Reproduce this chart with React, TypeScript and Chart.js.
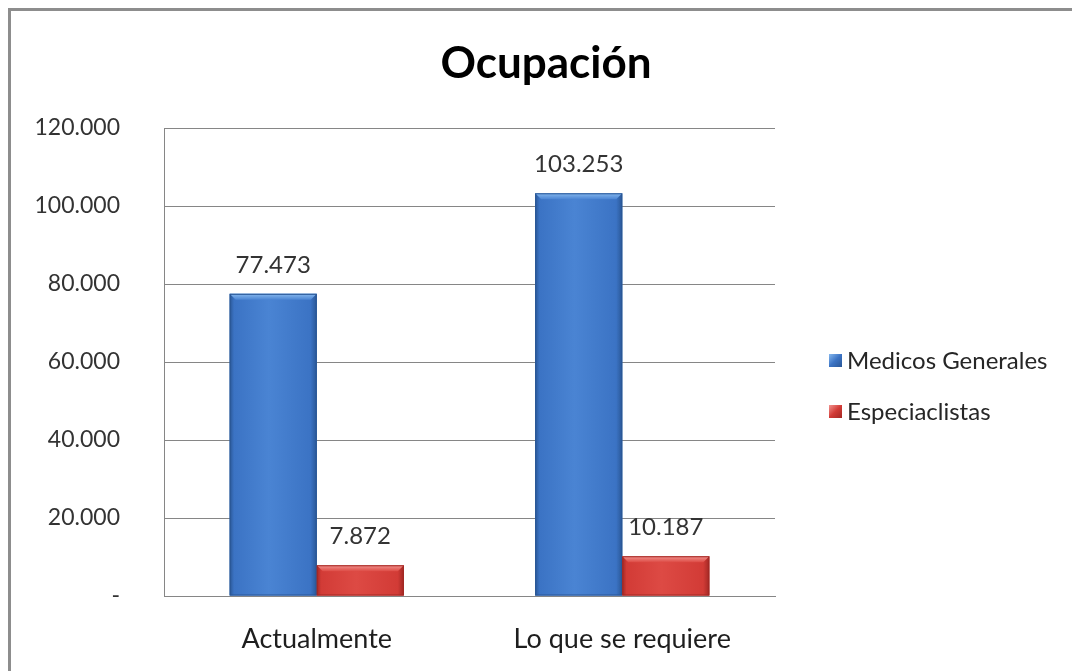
import React, { useEffect, useRef } from "react";
import { Chart, registerables } from "chart.js";

Chart.register(...registerables);

const TITLE = "Ocupación";
const categories = ["Actualmente", "Lo que se requiere"];
const seriesNames = ["Medicos Generales", "Especiaclistas"];
const medicosGenerales = [77473, 103253];
const especialistas = [7872, 10187];
const yTicks = [0, 20000, 40000, 60000, 80000, 100000, 120000];

const FONT = "Lato, 'Open Sans', sans-serif";

const palette = [
  { main: "#3b73c4", light: "#4a84d3", edge: "#2a5796", bevel: "#86b8ee" },
  { main: "#d23b36", light: "#dd4a44", edge: "#a22824", bevel: "#f29490" },
];

function fmt(v: number): string {
  if (v === 0) return "-";
  return Math.round(v).toString().replace(/\B(?=(\d{3})+(?!\d))/g, ".");
}

const barStylePlugin = {
  id: "barStyle",
  afterDatasetsDraw(chart: any) {
    const ctx = chart.ctx;
    chart.data.datasets.forEach((ds: any, di: number) => {
      const meta = chart.getDatasetMeta(di);
      const c = palette[di];
      meta.data.forEach((el: any, i: number) => {
        const { x, y, base, width } = el.getProps(["x", "y", "base", "width"], true);
        const l = x - width / 2;
        const r = x + width / 2;
        const t = Math.min(y, base);
        const b = Math.max(y, base);
        ctx.save();
        const g = ctx.createLinearGradient(l, 0, r, 0);
        g.addColorStop(0, c.edge);
        g.addColorStop(0.05, c.main);
        g.addColorStop(0.45, c.light);
        g.addColorStop(0.93, c.main);
        g.addColorStop(1, c.edge);
        ctx.fillStyle = g;
        ctx.fillRect(l, t, r - l, b - t);
        const bv = Math.min(6, (b - t) / 2);
        const gb = ctx.createLinearGradient(0, t, 0, t + bv);
        gb.addColorStop(0, c.bevel);
        gb.addColorStop(1, c.light);
        ctx.fillStyle = gb;
        ctx.beginPath();
        ctx.moveTo(l, t);
        ctx.lineTo(r, t);
        ctx.lineTo(r - bv, t + bv);
        ctx.lineTo(l + bv, t + bv);
        ctx.closePath();
        ctx.fill();
        ctx.strokeStyle = c.edge;
        ctx.lineWidth = 1;
        ctx.strokeRect(l + 0.5, t + 0.5, r - l - 1, b - t - 1);
        // value label
        ctx.fillStyle = "#333333";
        ctx.font = `24px ${FONT}`;
        ctx.textAlign = "center";
        ctx.textBaseline = "alphabetic";
        ctx.fillText(fmt(ds.data[i]), x, t - 21);
        ctx.restore();
      });
    });
  },
  afterDraw(chart: any) {
    const ctx = chart.ctx;
    const area = chart.chartArea;
    ctx.save();
    // title
    ctx.fillStyle = "#000000";
    ctx.font = `bold 44px ${FONT}`;
    ctx.textAlign = "center";
    ctx.textBaseline = "alphabetic";
    ctx.fillText(TITLE, 535, 67);
    // legend
    ctx.font = `24px ${FONT}`;
    ctx.textAlign = "left";
    chart.data.datasets.forEach((ds: any, di: number) => {
      const c = palette[di];
      const baseY = 358 + di * 51;
      const sx = area.right + 54;
      const sy = baseY - 15;
      const g = ctx.createLinearGradient(sx, sy, sx + 13, sy + 13);
      g.addColorStop(0, c.bevel);
      g.addColorStop(0.5, c.main);
      g.addColorStop(1, c.edge);
      ctx.fillStyle = g;
      ctx.fillRect(sx, sy, 13, 13);
      ctx.fillStyle = "#262626";
      ctx.fillText(ds.label, sx + 18, baseY);
    });
    ctx.restore();
  },
};

export default function App() {
  const ref = useRef<HTMLCanvasElement | null>(null);
  useEffect(() => {
    if (!ref.current) return;
    const chart = new Chart(ref.current, {
      type: "bar",
      data: {
        labels: categories,
        datasets: [
          { label: seriesNames[0], data: medicosGenerales, backgroundColor: palette[0].main, borderWidth: 0 },
          { label: seriesNames[1], data: especialistas, backgroundColor: palette[1].main, borderWidth: 0 },
        ],
      },
      options: {
        responsive: false,
        animation: false,
        layout: { padding: { left: 0, top: 117, right: 297, bottom: 0 } },
        plugins: {
          legend: { display: false },
          title: { display: false },
          tooltip: { enabled: false },
        },
        datasets: { bar: { barPercentage: 1, categoryPercentage: 0.57 } },
        scales: {
          x: {
            grid: { display: false, drawTicks: false },
            border: { display: true, color: "#868686", width: 1 },
            ticks: { color: "#1e1e1e", font: { family: FONT, size: 27 }, padding: 27 },
            afterFit: (s: any) => { s.height = 75; },
          },
          y: {
            min: 0,
            max: 120000,
            afterBuildTicks: (s: any) => { s.ticks = yTicks.map((v) => ({ value: v })); },
            grid: { color: "#868686", lineWidth: 1, drawTicks: false },
            border: { display: true, color: "#868686", width: 1 },
            ticks: {
              color: "#333333",
              font: { family: FONT, size: 23 },
              padding: 44,
              callback: (v: any) => fmt(Number(v)),
            },
            afterFit: (s: any) => { s.width = 153; },
          },
        },
      },
      plugins: [barStylePlugin],
    });
    return () => chart.destroy();
  }, []);
  return (
    <div style={{ position: "fixed", left: 8, top: 8, borderTop: "3px solid #8d8d8d", borderLeft: "3px solid #8d8d8d", width: 1061, height: 660, background: "#fff", overflow: "hidden" }}>
      <canvas ref={ref} width={1061} height={660} style={{ display: "block" }} />
    </div>
  );
}
